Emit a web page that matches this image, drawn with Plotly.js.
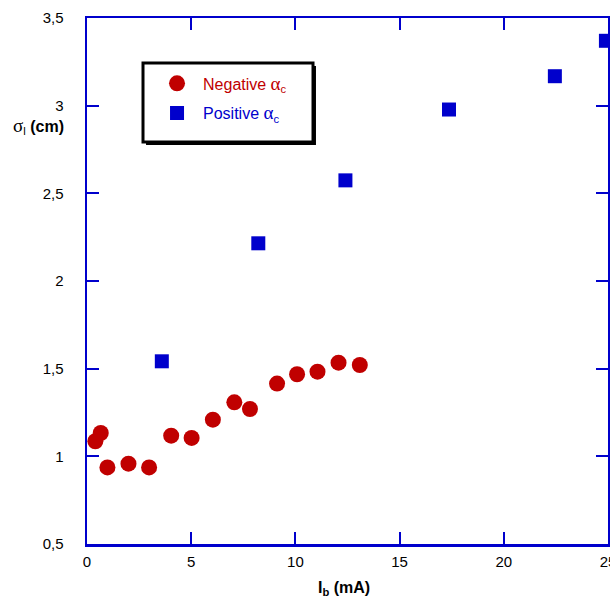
<!DOCTYPE html>
<html>
<head>
<meta charset="utf-8">
<script src="https://cdn.plot.ly/plotly-3.0.1.min.js"></script>
<style>html,body{margin:0;padding:0;background:#fff;}#chart{width:610px;height:604px;}</style>
</head>
<body>
<div id="chart"></div>
<script>
// Negative alpha_c series
const negX = [0.4, 0.66, 0.98, 1.99, 2.98, 4.04, 5.02, 6.04, 7.07, 7.82, 9.12, 10.08, 11.06, 12.07, 13.09];
const negY = [1.086, 1.133, 0.937, 0.958, 0.937, 1.118, 1.105, 1.209, 1.308, 1.27, 1.415, 1.468, 1.483, 1.534, 1.521];
// Positive alpha_c series
const posX = [3.59, 8.22, 12.4, 17.37, 22.45, 24.9];
const posY = [1.542, 2.215, 2.574, 2.978, 3.168, 3.37];

const xTicks = [0, 5, 10, 15, 20, 25];
const yTicks = [0.5, 1, 1.5, 2, 2.5, 3, 3.5];

const RED = '#c00000', BLUE = '#0000cc';

const traces = [
  {x: negX, y: negY, type: 'scatter', mode: 'markers', legendgroup: 'a',
   name: 'Negative <span style="font-family:Liberation Serif;font-size:19px">α</span><sub>c</sub>     ',
   marker: {symbol: 'circle', size: 16, color: RED}, cliponaxis: false},
  {x: posX, y: posY, type: 'scatter', mode: 'markers', legendgroup: 'b',
   name: 'Positive <span style="font-family:Liberation Serif;font-size:19px">α</span><sub>c</sub>',
   marker: {symbol: 'square', size: 14, color: BLUE}, cliponaxis: false}
];

const axisCommon = {
  showgrid: false, zeroline: false, showline: true, linecolor: BLUE, linewidth: 2.5,
  mirror: 'ticks', ticks: 'inside', ticklen: 12, tickwidth: 2, tickcolor: BLUE,
  ticklabeloverflow: 'allow',
  tickfont: {family: 'Liberation Sans, Arial', size: 15, color: '#000'}
};

const layout = {
  width: 610, height: 604,
  margin: {l: 87, r: 2, t: 18, b: 60},
  paper_bgcolor: '#fff', plot_bgcolor: '#fff',
  separators: ',.',
  showlegend: true,
  font: {family: 'Liberation Sans, Arial', color: '#000'},
  xaxis: Object.assign({}, axisCommon, {range: [0, 25], tickvals: xTicks, ticklabelstandoff: 2}),
  yaxis: Object.assign({}, axisCommon, {range: [0.5, 3.5], tickvals: yTicks, ticklabelstandoff: 18}),
  legend: {
    x: 0.1229, y: 0.908, xanchor: 'left', yanchor: 'top',
    bgcolor: 'rgba(0,0,0,0)', borderwidth: 0,
    itemwidth: 42, tracegroupgap: 6,
    font: {family: 'Liberation Sans, Arial', size: 16}
  },
  shapes: [
    // legend box shadow
    {type: 'rect', xref: 'paper', yref: 'paper', x0: 0.1133, x1: 0.4395, y0: 0.7586, y1: 0.9087,
     fillcolor: '#000', line: {width: 0}, layer: 'above'},
    // legend box
    {type: 'rect', xref: 'paper', yref: 'paper', x0: 0.1075, x1: 0.4338, y0: 0.7643, y1: 0.9144,
     fillcolor: '#fff', line: {color: '#000', width: 3}, layer: 'above'}
  ],
  annotations: [
    {xref: 'paper', yref: 'paper', x: -0.094, y: 0.795, xanchor: 'center', yanchor: 'middle', showarrow: false,
     text: '<span style="font-family:Liberation Serif;font-size:19px">σ</span><sub>l</sub> <b>(cm)</b>', font: {size: 16, color: '#000'}},
    {xref: 'paper', yref: 'paper', x: 0.493, y: -0.084, xanchor: 'center', yanchor: 'middle', showarrow: false,
     text: '<b>I</b><sub><b>b</b></sub> <b>(mA)</b>', font: {size: 16, color: '#000'}}
  ]
};

Plotly.newPlot('chart', traces, layout, {displayModeBar: false, staticPlot: true}).then(function(){
  const texts = document.querySelectorAll('.legendtext');
  if (texts[0]) texts[0].style.fill = RED;
  if (texts[1]) texts[1].style.fill = BLUE;
});
</script>
</body>
</html>
